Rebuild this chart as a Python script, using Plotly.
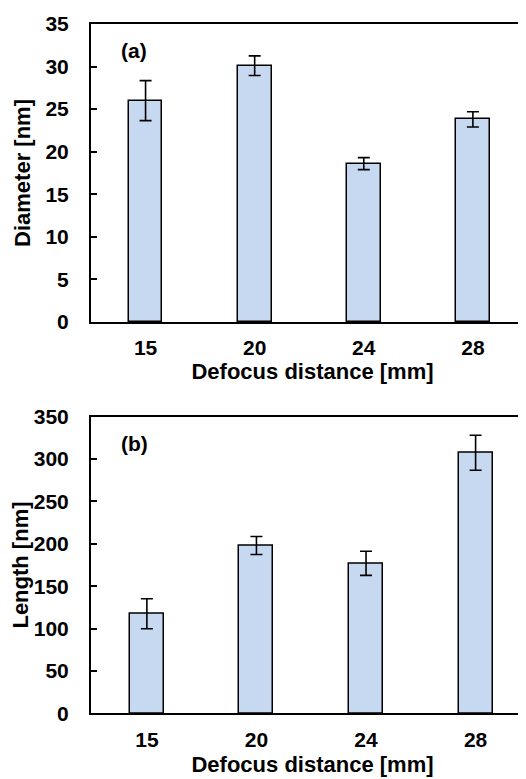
import plotly.graph_objects as go
from plotly.subplots import make_subplots

categories = ["15", "20", "24", "28"]
diameter = [26.0, 30.1, 18.6, 23.8]
diameter_err = [2.35, 1.15, 0.7, 0.9]
length = [117.5, 198.0, 177.0, 307.5]
length_err = [17.7, 10.6, 14.2, 20.7]
y1_ticks = [0, 5, 10, 15, 20, 25, 30, 35]
y2_ticks = [0, 50, 100, 150, 200, 250, 300, 350]

FONT = "Liberation Sans, Arial, sans-serif"
BAR_COLOR = "#C6D9F1"

fig = make_subplots(rows=2, cols=1)
xpos = list(range(len(categories)))

fig.add_trace(go.Bar(
    x=xpos, y=diameter, width=0.31,
    marker=dict(color=BAR_COLOR, line=dict(color="black", width=1.5)),
    error_y=dict(type="data", array=diameter_err, visible=True,
                 color="black", thickness=1.6, width=6),
    showlegend=False), row=1, col=1)

fig.add_trace(go.Bar(
    x=xpos, y=length, width=0.31,
    marker=dict(color=BAR_COLOR, line=dict(color="black", width=1.5)),
    error_y=dict(type="data", array=length_err, visible=True,
                 color="black", thickness=1.6, width=6),
    showlegend=False), row=2, col=1)

tickfont = dict(family=FONT, size=21, color="black", weight="bold")
titlefont = dict(family=FONT, size=22, color="black", weight="bold")

common_x = dict(tickvals=xpos, ticktext=categories, showline=True, linecolor="black",
                linewidth=2, mirror=True, ticks="", showgrid=False, zeroline=False,
                tickfont=tickfont, title_font=titlefont,
                ticklabelstandoff=6, automargin=False)
common_y = dict(showline=True, linecolor="black", linewidth=2, ticks="inside",
                ticklen=6, tickwidth=1.5, tickcolor="black", showgrid=False,
                zeroline=False, tickfont=tickfont, title_font=titlefont,
                title_standoff=9, ticklabelstandoff=16, automargin=False)

fig.update_layout(
    width=526, height=779,
    margin=dict(l=83, r=0, t=0, b=0, autoexpand=False),
    plot_bgcolor="white", paper_bgcolor="white",
    bargap=0,
    xaxis=dict(domain=[0, 1], range=[-0.5, 3.56], title_text="Defocus distance [mm]",
               title_standoff=4, **common_x),
    xaxis2=dict(domain=[0, 1], range=[-0.51, 3.533], title_text="Defocus distance [mm]",
                title_standoff=7, **common_x),
    yaxis=dict(domain=[0.5969, 0.9795], range=[0, 35], tickvals=y1_ticks,
               title_text="Diameter [nm]", **common_y),
    yaxis2=dict(domain=[0.0946, 0.4753], range=[0, 350], tickvals=y2_ticks,
                title_text="Length [nm]", **common_y),
    annotations=[
        dict(text="(a)", x=0.0, y=0.0, xref="x domain", yref="y domain", showarrow=False,
             font=dict(family=FONT, size=21, color="black", weight="bold"),
             xanchor="left", yanchor="middle", xshift=28, yshift=272),
        dict(text="(b)", x=0.0, y=0.0, xref="x2 domain", yref="y2 domain", showarrow=False,
             font=dict(family=FONT, size=21, color="black", weight="bold"),
             xanchor="left", yanchor="middle", xshift=28, yshift=270),
    ],
)

fig.write_html("out.html")
